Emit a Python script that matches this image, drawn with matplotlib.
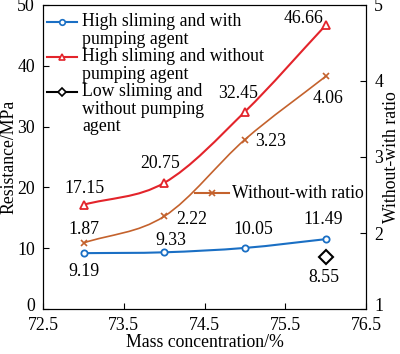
import matplotlib
matplotlib.use('Agg')
import matplotlib.pyplot as plt
import matplotlib.transforms as mtransforms
import numpy as np
from matplotlib.path import Path
from matplotlib.patches import PathPatch

plt.rcParams['font.family'] = ['Liberation Serif', 'DejaVu Serif']
plt.rcParams['font.size'] = 12.5

# data
conc = [73, 74, 75, 76]
high_with = [9.19, 9.33, 10.05, 11.49]
high_without = [17.15, 20.75, 32.45, 46.66]
ratio = [1.87, 2.22, 3.23, 4.06]
low_without_x = [76]
low_without = [8.55]

BLUE = '#1a6fc4'
RED = '#e3242b'
ORANGE = '#c4622d'


def smooth_path(ax, xs, ys, color, lw=1.5):
    """Draw a Catmull-Rom style smooth curve through the points as a bezier path."""
    xs = np.asarray(xs, float)
    ys = np.asarray(ys, float)
    px = np.concatenate([[2 * xs[0] - xs[1]], xs, [2 * xs[-1] - xs[-2]]])
    py = np.concatenate([[2 * ys[0] - ys[1]], ys, [2 * ys[-1] - ys[-2]]])
    verts = [(xs[0], ys[0])]
    codes = [Path.MOVETO]
    t = 0.5
    for i in range(1, len(px) - 2):
        c1 = (px[i] + (px[i + 1] - px[i - 1]) * t / 3, py[i] + (py[i + 1] - py[i - 1]) * t / 3)
        c2 = (px[i + 1] - (px[i + 2] - px[i]) * t / 3, py[i + 1] - (py[i + 2] - py[i]) * t / 3)
        verts += [c1, c2, (px[i + 1], py[i + 1])]
        codes += [Path.CURVE4] * 3
    ax.add_patch(PathPatch(Path(verts, codes), fill=False, edgecolor=color, lw=lw))


fig = plt.figure(figsize=(4.0, 3.54), dpi=100)
ax = fig.add_axes([0.108, 0.127, 0.807, 0.859])
ax2 = ax.twinx()

smooth_path(ax, conc, high_with, BLUE)
smooth_path(ax, conc, high_without, RED)
smooth_path(ax2, conc, ratio, ORANGE, lw=1.2)

ax.plot(conc, high_with, ls='none', marker='o', ms=4.5, mfc='white', mec=BLUE, mew=1.3)
ax.plot(conc, high_without, ls='none', marker='^', ms=6, mfc='white', mec=RED, mew=1.3)
ax.plot(low_without_x, low_without, ls='none', marker='D', ms=7, mfc='white', mec='black', mew=1.5)
ax2.plot(conc, ratio, ls='none', marker='x', ms=4, mec=ORANGE, mew=1.2)

ax.set_xlim(72.5, 76.5)
ax.set_ylim(0, 50)
ax2.set_ylim(1, 5)
ax.set_xticks([72.5, 73.5, 74.5, 75.5, 76.5])
ax.set_xticklabels(['72.5', '73.5', '74.5', '75.5', '76.5'])
ax.set_yticks([0, 10, 20, 30, 40, 50])
ax2.set_yticks([1, 2, 3, 4, 5])
ax.tick_params(axis='x', direction='in', length=4, width=0.8, labelsize=12.8, pad=5.5)
ax.tick_params(axis='y', direction='in', length=4, width=0.8, labelsize=12.8, pad=6)
ax2.tick_params(direction='in', length=4, width=0.8, labelsize=12.8, pad=6)
ax.set_xlabel('Mass concentration/%', fontsize=12.8, labelpad=0)
ax.set_ylabel('Resistance/MPa', fontsize=12.8, labelpad=0)
ax2.set_ylabel('Without-with ratio', fontsize=12.8, labelpad=0)

# lift the lowest y tick labels a little so they clear the x tick labels
lift = mtransforms.ScaledTranslation(0, 3 / 72, fig.dpi_scale_trans)
for lab in [ax.yaxis.get_major_ticks()[0].label1, ax2.yaxis.get_major_ticks()[0].label2]:
    lab.set_transform(lab.get_transform() + lift)

# value labels, offsets in pixels from the point
fs = 12.8


def label(a, x, y, dx, dy, ha='center'):
    a.annotate(f'{y:.2f}', (x, y), xytext=(dx, dy), textcoords='offset pixels',
               ha=ha, va='center', fontsize=fs)


label(ax, 73, high_with[0], 0, -18)
label(ax, 74, high_with[1], 7, 12)
label(ax, 75, high_with[2], 8, 18)
label(ax, 76, high_with[3], -2, 20)
label(ax, 73, high_without[0], 1, 16)
label(ax, 74, high_without[1], -4, 19)
label(ax, 75, high_without[2], -7, 18)
label(ax, 76, high_without[3], -22, 7)
label(ax, 76, low_without[0], -2, -20)
label(ax2, 73, ratio[0], 0, 13)
label(ax2, 74, ratio[1], 12, -3, ha='left')
label(ax2, 75, ratio[2], 10, -2, ha='left')
label(ax2, 76, ratio[3], 2, -22)


# legend drawn in axes coordinates so each handle sits on the first text line
def ax_y(py):
    return (309 - py) / 304.0


def legend_row(a, color, marker, ms, lw, text_lines, y_px, x0=0.012, x1=0.105, tx=0.121, line_px=17.5):
    yy = ax_y(y_px)
    a.plot([x0, x1], [yy, yy], color=color, lw=lw, transform=a.transAxes, clip_on=False)
    mfc = 'white' if marker != 'x' else color
    a.plot([(x0 + x1) / 2], [yy], ls='none', marker=marker, ms=ms, mfc=mfc, mec=color, mew=1.2,
           transform=a.transAxes, clip_on=False)
    for k, t in enumerate(text_lines):
        a.text(tx, ax_y(y_px + k * line_px), t, transform=a.transAxes, ha='left', va='center',
               fontsize=fs)


legend_row(ax, BLUE, 'o', 4, 1.5, ['High sliming and with', 'pumping agent'], 22)
legend_row(ax, RED, '^', 5, 1.5, ['High sliming and without', 'pumping agent'], 57)
legend_row(ax, 'black', 'D', 4, 1.5, ['Low sliming and', 'without pumping', 'agent'], 92)
legend_row(ax2, ORANGE, 'x', 4, 1.5, ['Without-with ratio'], 193,
           x0=(195 - 43) / 323, x1=(229 - 43) / 323, tx=(232 - 43) / 323)

fig.savefig('out.png', dpi=100)
